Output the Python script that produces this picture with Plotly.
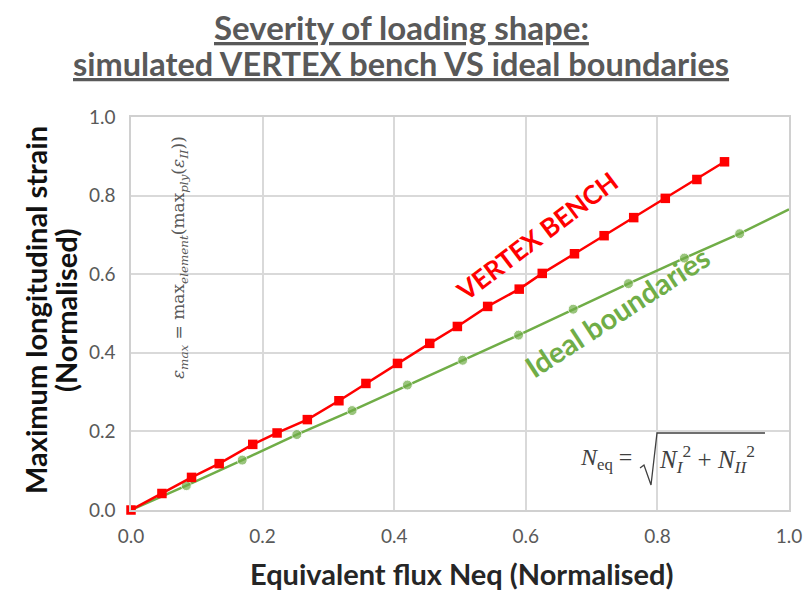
import plotly.graph_objects as go

# VERTEX bench (red squares)
vertex_x = [0.0, 0.047, 0.092, 0.134, 0.185, 0.222, 0.268, 0.316, 0.357, 0.405, 0.454,
            0.496, 0.542, 0.590, 0.625, 0.674, 0.719, 0.764, 0.812, 0.860, 0.902]
vertex_y = [0.0, 0.042, 0.083, 0.118, 0.167, 0.196, 0.230, 0.278, 0.322, 0.373, 0.424,
            0.467, 0.518, 0.562, 0.602, 0.652, 0.698, 0.744, 0.793, 0.841, 0.886]

# Ideal boundaries (green circles); last point has no marker
ideal_x = [0.0, 0.084, 0.169, 0.252, 0.336, 0.420, 0.504, 0.589, 0.672, 0.756, 0.841, 0.925, 1.0]
ideal_y = [0.0, 0.062, 0.127, 0.192, 0.253, 0.318, 0.381, 0.445, 0.511, 0.576, 0.641, 0.703, 0.765]
ideal_marker = [True] * 12 + [False]

tick_vals = [0.0, 0.2, 0.4, 0.6, 0.8, 1.0]

RED = "#ff0000"
GREEN = "#70ad47"
GRAY = "#595959"
FONT = "Lato"
SERIF = "Liberation Serif"

W, H = 804, 592
L, R, T, B = 131, 15, 117, 82
PW, PH = W - L - R, H - T - B


def px(xp):
    return (xp - L) / PW


def py(yp):
    return (H - B - yp) / PH


fig = go.Figure()
fig.add_trace(go.Scatter(
    x=ideal_x, y=ideal_y, mode="lines+markers",
    line=dict(color=GREEN, width=2.5),
    marker=dict(symbol="circle", size=[10 if m else 0 for m in ideal_marker], color=GREEN),
    showlegend=False, cliponaxis=True, hoverinfo="skip"))
fig.add_trace(go.Scatter(
    x=vertex_x, y=vertex_y, mode="lines+markers",
    line=dict(color=RED, width=2.5),
    marker=dict(symbol="square", size=9.5, color=RED),
    showlegend=False, cliponaxis=False, hoverinfo="skip"))

axis_common = dict(
    range=[0, 1], tickvals=tick_vals, tickformat=".1f",
    showgrid=True, gridcolor="#d9d9d9", gridwidth=1.5,
    zeroline=False, showline=True, linecolor="#d0d0d0", linewidth=1.5, mirror=True,
    tickfont=dict(family=FONT, size=19, color=GRAY), ticks="", automargin=False,
)

fig.update_layout(
    width=W, height=H,
    paper_bgcolor="white", plot_bgcolor="white",
    margin=dict(l=L, r=R, t=T, b=B, autoexpand=False),
    font=dict(family=FONT),
    xaxis=dict(axis_common, ticklabelstandoff=8),
    yaxis=dict(axis_common, ticklabelstandoff=10),
)


def note(x, y, text, size, color, family=FONT, angle=0, xanchor="center"):
    fig.add_annotation(x=x, y=y, xref="paper", yref="paper",
                       text=text, showarrow=False, textangle=angle,
                       xanchor=xanchor, yanchor="middle",
                       font=dict(family=family, size=size, color=color))


# Title (two underlined lines)
note(px(401), py(27), "<u><b>Severity of loading shape:</b></u>", 33, GRAY)
note(px(401), py(64), "<u><b>simulated VERTEX bench VS ideal boundaries</b></u>", 32.5, GRAY)

# Axis titles
note(px(461), py(573), "<b>Equivalent flux Neq (Normalised)</b>", 29, "#262626")
note(px(35), py(310), "<b>Maximum longitudinal strain</b>", 29, "#111111", angle=-90)
note(px(65), py(310), "<b>(Normalised)</b>", 29, "#111111", angle=-90)

# Series labels
fig.add_annotation(x=0.617, y=0.697, xref="x", yref="y", text="<b>VERTEX BENCH</b>",
                   textangle=-37, showarrow=False, xanchor="center", yanchor="middle",
                   font=dict(family=FONT, size=26, color=RED))
fig.add_annotation(x=0.739, y=0.504, xref="x", yref="y", text="<b>Ideal boundaries</b>",
                   textangle=-33, showarrow=False, xanchor="center", yanchor="middle",
                   font=dict(family=FONT, size=29, color=GREEN))

# Strain definition
note(px(179), py(258),
     "<i>ε</i><sub><i>max</i></sub> = max<sub><i>element</i></sub>(max<sub><i>ply</i></sub>(<i>ε</i><sub><i>II</i></sub>))",
     17, GRAY, family="DejaVu Serif", angle=-90)

# Neq definition
note(px(634), py(459), "<i>N</i><sub>eq</sub> =", 24, "#404040", family=SERIF, xanchor="right")
note(px(657), py(459), "<i>N<sub>I</sub></i><sup>2</sup> + <i>N<sub>II</sub></i><sup>2</sup>",
     25, "#404040", family=SERIF, xanchor="left")
rad = [(640, 468), (644, 465), (651, 485), (657, 433), (765, 433)]
path = "M " + " L ".join(f"{px(a):.4f},{py(b):.4f}" for a, b in rad)
fig.add_shape(type="path", xref="paper", yref="paper", path=path,
              line=dict(color="#404040", width=1.3))

fig.write_html("out.html", post_script="document.body.style.margin='0';",
               config={"displayModeBar": False})
